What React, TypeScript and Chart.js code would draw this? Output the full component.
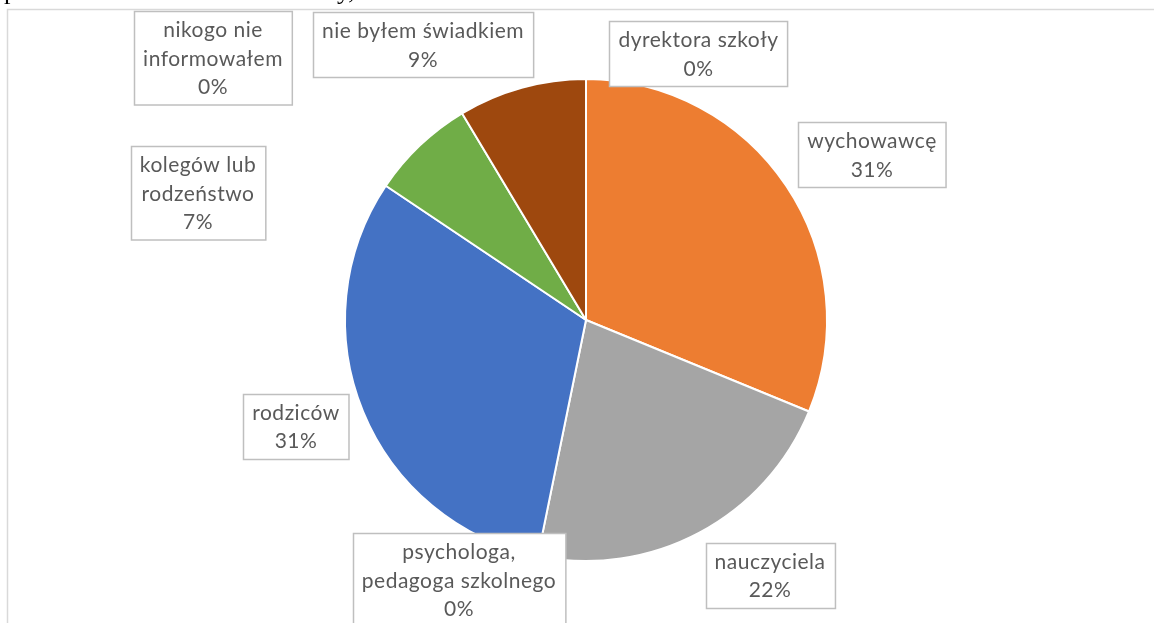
import React, { useEffect, useRef } from "react";
import { Chart, registerables } from "chart.js";

Chart.register(...registerables);

const categories = [
  "dyrektora szkoły",
  "wychowawcę",
  "nauczyciela",
  "psychologa, pedagoga szkolnego",
  "rodziców",
  "kolegów lub rodzeństwo",
  "nikogo nie informowałem",
  "nie byłem świadkiem",
];
const labelLines = [
  ["dyrektora szkoły"],
  ["wychowawcę"],
  ["nauczyciela"],
  ["psychologa,", "pedagoga szkolnego"],
  ["rodziców"],
  ["kolegów lub", "rodzeństwo"],
  ["nikogo nie", "informowałem"],
  ["nie byłem świadkiem"],
];
const values = [0, 31.2, 22, 0, 31.2, 7, 0, 8.6];
const colors = ["#5B9BD5", "#ED7D31", "#A5A5A5", "#FFC000", "#4472C4", "#70AD47", "#264478", "#9E480E"];
// label box centres (layout only)
const labelCenters: [number, number][] = [
  [698.5, 53.5],
  [872, 154.5],
  [770, 575],
  [459, 580],
  [296, 426],
  [198, 193],
  [213, 58],
  [423, 44.5],
];

const FONT = "21px Lato";
const LINE_H = 28.5;

const decorPlugin = {
  id: "decor",
  beforeDraw(chart: any) {
    const ctx = chart.ctx;
    ctx.save();
    ctx.fillStyle = "#ffffff";
    ctx.fillRect(0, 0, chart.width, chart.height);
    ctx.strokeStyle = "#d9d9d9";
    ctx.lineWidth = 1.5;
    ctx.beginPath();
    ctx.moveTo(1200, 9.5);
    ctx.lineTo(7.5, 9.5);
    ctx.lineTo(7.5, 700);
    ctx.stroke();
    ctx.fillStyle = "#000000";
    ctx.font = "26px 'Liberation Serif'";
    ctx.textBaseline = "alphabetic";
    ctx.fillText("p", 4, -1);
    ctx.fillText("y,", 337, -1);
    ctx.restore();
  },
  afterDraw(chart: any) {
    const ctx = chart.ctx;
    const data = chart.data.datasets[0].data as number[];
    const total = data.reduce((a: number, b: number) => a + b, 0);
    ctx.save();
    ctx.font = FONT;
    try {
      (ctx as any).letterSpacing = "0.5px";
    } catch (e) {}
    ctx.textAlign = "center";
    ctx.textBaseline = "middle";
    labelLines.forEach((lines, i) => {
      const pct = Math.round((data[i] / total) * 100) + "%";
      const all = [...lines, pct];
      const [cx, cy] = labelCenters[i];
      const w = Math.max(...all.map((t) => ctx.measureText(t).width)) + 18;
      const h = all.length * LINE_H + 8;
      const x = Math.round(cx - w / 2) + 0.5;
      const y = Math.round(cy - h / 2) + 0.5;
      ctx.fillStyle = "#ffffff";
      ctx.fillRect(x, y, w, h);
      ctx.strokeStyle = "#bfbfbf";
      ctx.lineWidth = 1.5;
      ctx.strokeRect(x, y, w, h);
      ctx.fillStyle = "#595959";
      all.forEach((t, j) => {
        ctx.fillText(t, cx, cy - ((all.length - 1) * LINE_H) / 2 + j * LINE_H + 1);
      });
    });
    ctx.restore();
  },
};

export default function App() {
  const ref = useRef<HTMLCanvasElement | null>(null);
  useEffect(() => {
    if (!ref.current) return;
    const chart = new Chart(ref.current, {
      type: "pie",
      data: {
        labels: categories,
        datasets: [
          {
            data: values,
            backgroundColor: colors,
            borderColor: "#ffffff",
            borderWidth: 2,
          },
        ],
      },
      options: {
        animation: false,
        responsive: false,
        maintainAspectRatio: false,
        layout: { padding: { top: 78, bottom: 61, left: 344, right: 326 } },
        plugins: { legend: { display: false }, tooltip: { enabled: false } },
      },
      plugins: [decorPlugin],
    });
    return () => chart.destroy();
  }, []);
  return (
    <div style={{ position: "absolute", left: 0, top: 0, width: 1154, height: 623, background: "#fff" }}>
      <canvas ref={ref} width={1154} height={623} style={{ display: "block" }} />
    </div>
  );
}
